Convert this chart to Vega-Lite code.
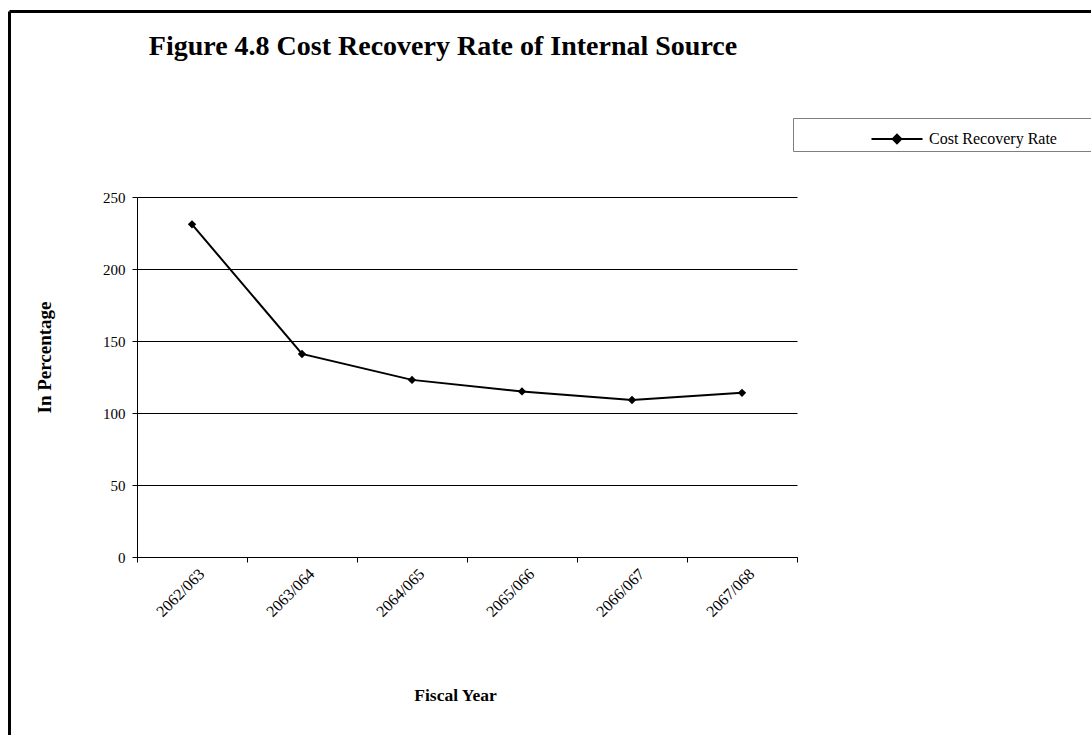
{
  "$schema": "https://vega.github.io/schema/vega-lite/v6.json",
  "width": 660,
  "height": 360,
  "autosize": "none",
  "padding": {"left": 137, "top": 197, "right": 294, "bottom": 178},
  "background": "white",
  "config": {"view": {"stroke": null}, "font": "Liberation Serif"},
  "title": {
    "text": "Figure 4.8 Cost Recovery Rate of Internal Source",
    "font": "Liberation Serif",
    "fontSize": 28,
    "fontWeight": "bold",
    "color": "black",
    "anchor": "middle",
    "baseline": "alphabetic",
    "dx": -24,
    "offset": 0,
    "dy": 72
  },
  "data": {
    "values": [
      {"year": "2062/063", "rate": 231, "series": "Cost Recovery Rate"},
      {"year": "2063/064", "rate": 141, "series": "Cost Recovery Rate"},
      {"year": "2064/065", "rate": 123, "series": "Cost Recovery Rate"},
      {"year": "2065/066", "rate": 115, "series": "Cost Recovery Rate"},
      {"year": "2066/067", "rate": 109, "series": "Cost Recovery Rate"},
      {"year": "2067/068", "rate": 114, "series": "Cost Recovery Rate"}
    ]
  },
  "layer": [
    {
      "encoding": {
        "x": {
          "field": "year",
          "type": "ordinal",
          "sort": null,
          "scale": {"type": "band", "paddingInner": 0, "paddingOuter": 0},
          "axis": {
            "bandPosition": 1,
            "tickExtra": true,
            "labelAngle": -45,
            "labelAlign": "right",
            "labelBaseline": "middle",
            "labelOffset": 10,
            "labelPadding": 9,
            "tickSize": 5,
            "tickColor": "black",
            "domainColor": "black",
            "domainWidth": 1,
            "labelFont": "Liberation Serif",
            "labelFontSize": 16,
            "labelColor": "black",
            "title": "Fiscal Year",
            "titleFont": "Liberation Serif",
            "titleFontSize": 17.5,
            "titleFontWeight": "bold",
            "titleColor": "black",
            "titleX": 318,
            "titleY": 143,
            "titleBaseline": "alphabetic",
            "titleAlign": "center"
          }
        },
        "y": {
          "field": "rate",
          "type": "quantitative",
          "scale": {"domain": [0, 250], "nice": false},
          "axis": {
            "values": [0, 50, 100, 150, 200, 250],
            "grid": true,
            "gridColor": "black",
            "gridWidth": 1,
            "domainColor": "black",
            "domainWidth": 1,
            "tickColor": "black",
            "tickSize": 5,
            "labelFont": "Liberation Serif",
            "labelFontSize": 15,
            "labelColor": "black",
            "labelPadding": 7,
            "title": "In Percentage",
            "titleFont": "Liberation Serif",
            "titleFontSize": 19,
            "titleFontWeight": "bold",
            "titleColor": "black",
            "titleX": -93,
            "titleY": 160,
            "titleAngle": -90,
            "titleAlign": "center",
            "titleBaseline": "middle"
          }
        }
      },
      "layer": [
        {"mark": {"type": "line", "color": "black", "strokeWidth": 2}},
        {
          "mark": {"type": "point", "shape": "diamond", "filled": true, "size": 70, "opacity": 1},
          "encoding": {
            "color": {
              "field": "series",
              "type": "nominal",
              "scale": {"range": ["black"]},
              "legend": {
                "title": null,
                "orient": "none",
                "legendX": 656,
                "legendY": -79,
                "strokeColor": "#7f7f7f",
                "padding": 3,
                "symbolType": "M-1.5,0H1.5M0,-0.25L0.25,0L0,0.25L-0.25,0ZM13,0",
                "symbolSize": 1156,
                "symbolStrokeWidth": 2,
                "symbolStrokeColor": "black",
                "symbolFillColor": "black",
                "symbolOffset": 83,
                "labelFont": "Liberation Serif",
                "labelFontSize": 16,
                "labelColor": "black",
                "labelOffset": 14,
                "labelLimit": 400
              }
            }
          }
        }
      ]
    },
    {
      "mark": {"type": "point", "opacity": 0, "size": 0},
      "encoding": {
        "x": {
          "field": "rate",
          "type": "quantitative",
          "scale": {"domain": [0, 250], "range": [-128, 960]},
          "axis": {"orient": "top", "offset": 186, "domainColor": "black", "domainWidth": 3, "ticks": false, "labels": false, "grid": false, "title": null}
        },
        "y": {
          "field": "rate",
          "type": "quantitative",
          "scale": {"domain": [0, 250], "range": [600, -186]},
          "axis": {"orient": "left", "offset": 128, "domainColor": "black", "domainWidth": 3, "ticks": false, "labels": false, "grid": false, "title": null}
        }
      }
    }
  ],
  "resolve": {
    "scale": {"x": "independent", "y": "independent"},
    "axis": {"x": "independent", "y": "independent"}
  }
}
